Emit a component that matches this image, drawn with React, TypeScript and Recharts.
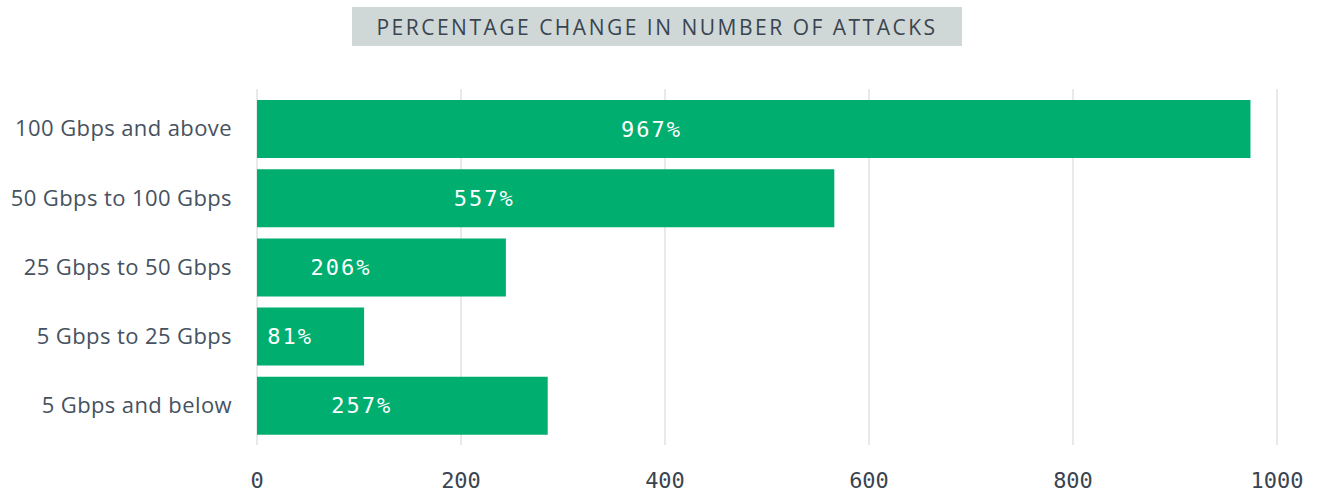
import { BarChart, Bar, XAxis, YAxis, CartesianGrid, LabelList } from 'recharts'

const categories = [
  '100 Gbps and above',
  '50 Gbps to 100 Gbps',
  '25 Gbps to 50 Gbps',
  '5 Gbps to 25 Gbps',
  '5 Gbps and below',
]
// bar lengths as drawn in the picture (they do not match the printed labels)
const barValues = [974, 566, 244, 105, 285]
// printed labels
const labelValues = [967, 557, 206, 81, 257]
const xTicks = [0, 200, 400, 600, 800, 1000]

const data = categories.map((name, i) => ({
  name,
  value: barValues[i],
  label: labelValues[i],
}))

const GREEN = '#00ae6f'
const TEXT = '#465260'

function BarLabel(props: any) {
  const { x, y, width, height, index } = props
  const d = data[index]
  // label sits at 40% of its printed value along the scale
  const cx = x + (0.4 * d.label * width) / d.value
  return (
    <text
      x={cx}
      y={y + height / 2}
      textAnchor="middle"
      dominantBaseline="central"
      fill="#ffffff"
      fontFamily="'DejaVu Sans Mono', monospace"
      fontSize={22}
      letterSpacing={2}
    >
      {d.label}%
    </text>
  )
}

export default function App() {
  return (
    <div style={{ position: 'relative', width: 1317, height: 493, background: '#fff' }}>
      <style>{`body{margin:0}`}</style>
      <div
        style={{
          position: 'absolute',
          left: 352,
          top: 7,
          width: 610,
          height: 39,
          background: '#cfd8d7',
          color: '#3a4450',
          fontFamily: "'Open Sans', sans-serif",
          fontSize: 21,
          letterSpacing: 2.5,
          display: 'flex',
          alignItems: 'center',
          justifyContent: 'center',
        }}
      >
        PERCENTAGE CHANGE IN NUMBER OF ATTACKS
      </div>
      <BarChart
        width={1317}
        height={493}
        data={data}
        layout="vertical"
        margin={{ top: 89, right: 40, bottom: 0, left: 0 }}
      >
        <CartesianGrid horizontal={false} vertical stroke="#dfe3e3" strokeWidth={1.5} />
        <XAxis
          type="number"
          domain={[0, 1000]}
          ticks={xTicks}
          axisLine={false}
          tickLine={false}
          height={48}
          tickMargin={21}
          tick={{ fill: '#3a4450', fontSize: 22, fontFamily: "'DejaVu Sans Mono', monospace" }}
        />
        <YAxis
          type="category"
          dataKey="name"
          width={257}
          axisLine={false}
          tickLine={false}
          tickMargin={19}
          padding={{ top: 5, bottom: 5 }}
          tick={{
            fill: TEXT,
            fontSize: 22,
            letterSpacing: 0.4,
            fontFamily: "'Open Sans', sans-serif",
          }}
        />
        <Bar dataKey="value" fill={GREEN} barSize={58} isAnimationActive={false}>
          <LabelList dataKey="label" content={BarLabel} />
        </Bar>
      </BarChart>
    </div>
  )
}
